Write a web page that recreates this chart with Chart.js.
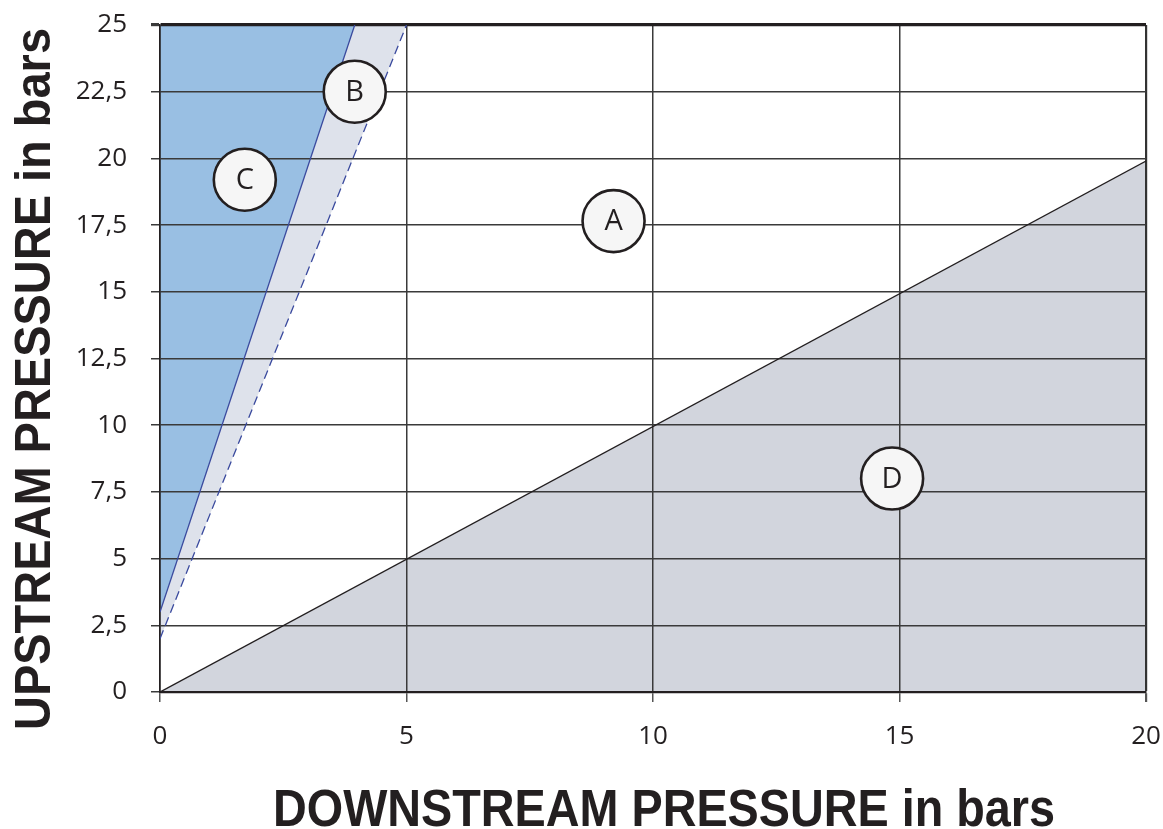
<!DOCTYPE html>
<html>
<head>
<meta charset="utf-8">
<script src="https://cdn.jsdelivr.net/npm/chart.js@4"></script>
<style>
    html, body { margin: 0; padding: 0; background: #fff; }
    #box { width: 1163px; height: 829px; position: relative; }
</style>
</head>
<body>
<div id="box"><canvas id="zones"></canvas></div>
<script>
    "use strict";

    // tick labels
    const xTicks = [0, 5, 10, 15, 20];
    const yTicks = [0, 2.5, 5, 7.5, 10, 12.5, 15, 17.5, 20, 22.5, 25];

    // boundary lines (downstream, upstream)
    const lineD = [{ x: 0, y: 0 }, { x: 20, y: 19.9 }];
    const lineC = [{ x: 0, y: 3 }, { x: 3.95, y: 25 }];
    const lineB = [{ x: 0, y: 2 }, { x: 5, y: 25 }];

    // zone markers
    const zoneNames = ["A", "B", "C", "D"];
    const zoneX = [9.2, 3.95, 1.72, 14.85];
    const zoneY = [17.65, 22.5, 19.2, 8.0];

    const ink = "#231F20";
    const navy = "#3A4A9E";

    // circled zone letters, placed through the chart scales
    const zoneMarks = {
        id: "zoneMarks",
        afterDatasetsDraw: function (chart) {
            const ctx = chart.ctx;
            const sx = chart.scales.x;
            const sy = chart.scales.y;
            zoneNames.forEach((name, i) => {
                const x = sx.getPixelForValue(zoneX[i]);
                const y = sy.getPixelForValue(zoneY[i]);
                ctx.save();
                ctx.beginPath();
                ctx.arc(x, y, 31, 0, Math.PI * 2);
                ctx.fillStyle = "#F6F6F6";
                ctx.fill();
                ctx.lineWidth = 2.6;
                ctx.strokeStyle = ink;
                ctx.stroke();
                ctx.fillStyle = ink;
                ctx.font = "29px 'Open Sans'";
                ctx.textAlign = "center";
                ctx.textBaseline = "middle";
                ctx.fillText(name, x, y + 1);
                ctx.restore();
            });
        }
    };

    // bold axis titles, squeezed to the width of the original lettering
    function squeezed(ctx, text, size, length, cx, cy, rot) {
        ctx.save();
        ctx.font = "bold " + size + "px 'Liberation Sans'";
        const w = ctx.measureText(text).width;
        ctx.translate(cx, cy);
        ctx.rotate(rot);
        ctx.scale(length / w, 1);
        ctx.fillStyle = ink;
        ctx.textAlign = "center";
        ctx.textBaseline = "alphabetic";
        ctx.fillText(text, 0, size * 0.36);
        ctx.restore();
    }

    const axisTitles = {
        id: "axisTitles",
        afterDraw: function (chart) {
            const ctx = chart.ctx;
            squeezed(ctx, "DOWNSTREAM PRESSURE in bars", 51, 782, 664, 808, 0);
            squeezed(ctx, "UPSTREAM PRESSURE in bars", 50, 702, 32, 379, -Math.PI / 2);
        }
    };

    new Chart(document.getElementById("zones"), {
        type: "line",
        data: {
            datasets: [{
                data: lineC,
                borderColor: navy,
                borderWidth: 1.3,
                backgroundColor: "#99BFE3",
                fill: "end",
                pointRadius: 0
            }, {
                data: lineB,
                borderColor: navy,
                borderWidth: 1.3,
                borderDash: [9, 5],
                backgroundColor: "#DEE2EB",
                fill: "end",
                pointRadius: 0
            }, {
                data: lineD,
                borderColor: ink,
                borderWidth: 1.4,
                backgroundColor: "#D2D5DD",
                fill: "origin",
                pointRadius: 0
            }]
        },
        options: {
            responsive: true,
            maintainAspectRatio: false,
            animation: false,
            events: [],
            layout: { padding: { top: 25, right: 17, left: 0, bottom: 0 } },
            plugins: {
                legend: { display: false },
                tooltip: { enabled: false },
                filler: { drawTime: "beforeDraw" }
            },
            scales: {
                x: {
                    type: "linear",
                    min: 0,
                    max: 20,
                    afterBuildTicks: s => { s.ticks = xTicks.map(v => ({ value: v })); },
                    afterFit: s => {
                        s.height = 137;
                        s.paddingLeft = 0;
                        s.paddingRight = 0;
                    },
                    ticks: {
                        font: { family: "'Open Sans'", size: 26 },
                        color: ink,
                        padding: 19,
                        maxRotation: 0
                    },
                    grid: {
                        color: c => c.tick && c.tick.value === 20 ? "#333" : "#3A3A3A",
                        lineWidth: c => c.tick && c.tick.value === 20 ? 2.2 : 1.5,
                        tickLength: 10,
                        tickColor: "#555"
                    },
                    border: { display: true, color: ink, width: 2.2 }
                },
                y: {
                    type: "linear",
                    min: 0,
                    max: 25,
                    afterBuildTicks: s => { s.ticks = yTicks.map(v => ({ value: v })); },
                    afterFit: s => {
                        s.width = 160;
                        s.paddingTop = 0;
                        s.paddingBottom = 0;
                    },
                    ticks: {
                        font: { family: "'Open Sans'", size: 26 },
                        color: ink,
                        padding: 24,
                        callback: v => String(v).replace(".", ",")
                    },
                    grid: {
                        color: c => c.tick && c.tick.value === 25 ? ink : "#3A3A3A",
                        lineWidth: c => c.tick && c.tick.value === 25 ? 3.2 : 1.5,
                        tickLength: 9,
                        tickColor: "#3A3A3A"
                    },
                    border: { display: true, color: ink, width: 1.6 }
                }
            }
        },
        plugins: [zoneMarks, axisTitles]
    });
</script>
</body>
</html>
